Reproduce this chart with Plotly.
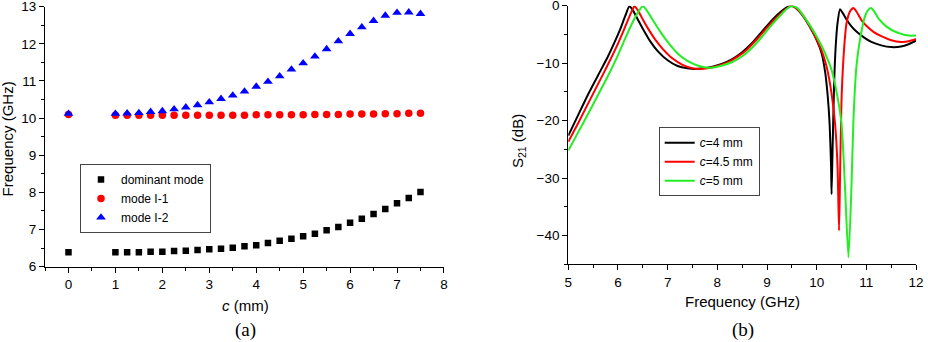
import plotly.graph_objects as go

# ---------------- Panel (a) data ----------------
c_mm = [0, 1, 1.25, 1.5, 1.75, 2, 2.25, 2.5, 2.75, 3, 3.25, 3.5, 3.75, 4, 4.25,
        4.5, 4.75, 5, 5.25, 5.5, 5.75, 6, 6.25, 6.5, 6.75, 7, 7.25, 7.5]
dominant_mode = [6.39, 6.39, 6.39, 6.39, 6.40, 6.40, 6.42, 6.43, 6.45, 6.47, 6.48, 6.51,
                 6.55, 6.58, 6.64, 6.70, 6.75, 6.82, 6.89, 6.98, 7.07, 7.18, 7.29,
                 7.42, 7.55, 7.71, 7.85, 8.01]
mode_I1 = [10.10, 10.08, 10.08, 10.08, 10.08, 10.08, 10.08, 10.08, 10.08, 10.08, 10.08,
           10.08, 10.08, 10.09, 10.09, 10.09, 10.09, 10.09, 10.10, 10.10, 10.10, 10.11,
           10.11, 10.11, 10.12, 10.12, 10.13, 10.13]
mode_I2 = [10.12, 10.12, 10.13, 10.14, 10.17, 10.19, 10.24, 10.29, 10.35, 10.43, 10.52,
           10.61, 10.72, 10.85, 10.98, 11.13, 11.31, 11.48, 11.66, 11.86, 12.07, 12.27,
           12.45, 12.62, 12.76, 12.84, 12.85, 12.81]

# ---------------- Panel (b) data ----------------
freq_c4 = [5.0, 5.2, 5.4, 5.6, 5.8, 5.95, 6.05, 6.15, 6.23, 6.3, 6.4, 6.5, 6.65, 6.8, 7.0,
           7.2, 7.4, 7.55, 7.7, 7.9, 8.1, 8.3, 8.5, 8.7, 8.9, 9.1, 9.3, 9.45, 9.55, 9.7,
           9.85, 10.0, 10.1, 10.17, 10.22, 10.26, 10.29, 10.30, 10.32, 10.35, 10.38,
           10.42, 10.47, 10.52, 10.6, 10.7, 10.8, 10.95, 11.1, 11.3, 11.5, 11.7, 11.85, 12.0]
s21_c4 = [-22.6, -19.0, -15.4, -12.1, -8.8, -6.0, -4.0, -1.7, -0.1, -0.8, -2.4, -4.0, -6.2,
          -7.9, -9.5, -10.5, -10.9, -11.0, -10.9, -10.6, -10.1, -9.3, -8.1, -6.5, -4.5,
          -2.5, -0.9, -0.05, -0.2, -1.5, -3.5, -6.0, -8.3, -11.5, -15.5, -20.5, -28.0,
          -32.8, -25.0, -14.0, -7.5, -3.0, -0.6, -1.2, -2.4, -3.6, -4.5, -5.5, -6.3, -6.9,
          -7.2, -7.1, -6.7, -6.1]

freq_c45 = [5.0, 5.2, 5.4, 5.6, 5.8, 6.0, 6.1, 6.2, 6.28, 6.33, 6.4, 6.5, 6.6, 6.75, 6.9,
            7.1, 7.3, 7.5, 7.65, 7.8, 8.0, 8.2, 8.4, 8.6, 8.8, 9.0, 9.2, 9.35, 9.48, 9.6,
            9.75, 9.9, 10.0, 10.1, 10.2, 10.3, 10.37, 10.42, 10.45, 10.47, 10.5, 10.55,
            10.6, 10.67, 10.74, 10.8, 10.9, 11.0, 11.15, 11.3, 11.5, 11.7, 11.85, 12.0]
s21_c45 = [-23.7, -20.4, -17.0, -13.6, -10.2, -6.6, -4.6, -2.5, -0.9, -0.1, -0.8, -2.4,
           -3.9, -5.9, -7.5, -9.2, -10.3, -10.9, -11.0, -10.9, -10.5, -9.9, -8.9, -7.6,
           -5.8, -3.8, -2.0, -0.8, -0.05, -0.5, -2.0, -4.2, -5.9, -7.8, -10.6, -15.3,
           -20.5, -28.0, -39.1, -30.0, -16.4, -7.7, -3.1, -1.0, -0.4, -1.0, -2.5, -3.5,
           -4.6, -5.3, -6.0, -6.3, -6.2, -5.8]

freq_c5 = [5.0, 5.2, 5.4, 5.6, 5.8, 6.0, 6.15, 6.3, 6.4, 6.5, 6.58, 6.7, 6.85, 7.0, 7.2,
           7.4, 7.6, 7.8, 7.95, 8.1, 8.3, 8.5, 8.7, 8.9, 9.1, 9.3, 9.42, 9.52, 9.62, 9.8,
           9.95, 10.1, 10.2, 10.3, 10.4, 10.5, 10.57, 10.64, 10.7, 10.74, 10.8, 10.87,
           10.97, 11.03, 11.09, 11.15, 11.25, 11.4, 11.55, 11.7, 11.85, 12.0]
s21_c5 = [-25.2, -22.0, -18.8, -15.5, -12.2, -8.6, -5.6, -2.8, -1.2, -0.1, -0.8, -2.5,
          -4.5, -6.3, -8.3, -9.6, -10.4, -10.8, -10.7, -10.4, -9.8, -8.8, -7.3, -5.4,
          -3.3, -1.4, -0.4, -0.05, -0.5, -2.6, -4.6, -7.0, -8.9, -11.2, -15.0, -20.5,
          -31.6, -43.8, -31.6, -19.9, -10.6, -6.0, -1.9, -0.8, -0.4, -0.9, -2.3, -3.6,
          -4.4, -4.9, -5.2, -5.2]

FONT = "Liberation Sans, Arial, sans-serif"
SERIF = "Liberation Serif, Times New Roman, serif"

fig = go.Figure()

fig.add_trace(go.Scatter(x=c_mm, y=dominant_mode, mode="markers", name="dominant mode",
                         marker=dict(symbol="square", size=6.5, color="black"),
                         xaxis="x", yaxis="y", legend="legend"))
fig.add_trace(go.Scatter(x=c_mm, y=mode_I1, mode="markers", name="mode I-1",
                         marker=dict(symbol="circle", size=7.5, color="#ff0000"),
                         xaxis="x", yaxis="y", legend="legend"))
fig.add_trace(go.Scatter(x=c_mm, y=mode_I2, mode="markers", name="mode I-2",
                         marker=dict(symbol="triangle-up", size=8.5, color="#0000ff"),
                         xaxis="x", yaxis="y", legend="legend"))

line_specs = [
    (freq_c4, s21_c4, "<i>c</i>=4 mm", "black"),
    (freq_c45, s21_c45, "<i>c</i>=4.5 mm", "#ff0000"),
    (freq_c5, s21_c5, "<i>c</i>=5 mm", "#22ee22"),
]
for fx, fy, nm, col in line_specs:
    fig.add_trace(go.Scatter(x=fx, y=fy, mode="lines", name=nm,
                             line=dict(color=col, width=2, shape="spline", smoothing=0.6),
                             xaxis="x2", yaxis="y2", legend="legend2"))

tickfont = dict(family=FONT, size=13.5, color="black")
common = dict(showline=True, linecolor="black", linewidth=1.2, ticks="outside",
              ticklen=5, tickwidth=1, tickcolor="black", showgrid=False, zeroline=False,
              tickfont=tickfont, automargin=False, ticklabeloverflow="allow")

fig.update_layout(
    width=928, height=342,
    margin=dict(l=0, r=0, t=0, b=0),
    paper_bgcolor="white", plot_bgcolor="white",
    showlegend=True,
    xaxis=dict(domain=[0.0485, 0.4784], range=[-0.5, 8], anchor="y", dtick=1, tick0=0,
               minor=dict(ticks="outside", ticklen=3, dtick=0.5, tick0=0, tickcolor="black"),
               **common),
    yaxis=dict(domain=[0.2202, 0.9804], range=[6, 13], anchor="x", dtick=1, tick0=6,
               minor=dict(ticks="outside", ticklen=3, dtick=0.5, tick0=6, tickcolor="black"),
               **common),
    xaxis2=dict(domain=[0.6124, 0.9871], range=[5, 12], anchor="y2", dtick=1, tick0=5,
                minor=dict(ticks="outside", ticklen=3, dtick=0.5, tick0=5, tickcolor="black"),
                **common),
    yaxis2=dict(domain=[0.2272, 0.9833], range=[-45, 0], anchor="x2", dtick=10, tick0=0,
                minor=dict(ticks="outside", ticklen=3, dtick=5, tick0=0, tickcolor="black"),
                **common),
    legend=dict(x=0.0862, y=0.5205, xanchor="left", yanchor="top",
                bordercolor="#444444", borderwidth=1, bgcolor="white",
                font=dict(family=FONT, size=12, color="black"),
                itemwidth=30, tracegroupgap=0),
    legend2=dict(x=0.7098, y=0.6278, xanchor="left", yanchor="top",
                 bordercolor="#444444", borderwidth=1, bgcolor="white",
                 font=dict(family=FONT, size=12, color="black"),
                 itemwidth=30, tracegroupgap=0),
    annotations=[
        dict(text="<i>c</i> (mm)", x=0.2647, y=0.108, xref="paper", yref="paper",
             showarrow=False, xanchor="center", yanchor="middle",
             font=dict(family=FONT, size=15, color="black")),
        dict(text="Frequency (GHz)", x=0.0085, y=0.595, xref="paper", yref="paper",
             showarrow=False, xanchor="center", yanchor="middle", textangle=-90,
             font=dict(family=FONT, size=15, color="black")),
        dict(text="Frequency (GHz)", x=0.8003, y=0.1178, xref="paper", yref="paper",
             showarrow=False, xanchor="center", yanchor="middle",
             font=dict(family=FONT, size=15, color="black")),
        dict(text="S<sub>21</sub> (dB)", x=0.5582, y=0.5877, xref="paper", yref="paper",
             showarrow=False, xanchor="center", yanchor="middle", textangle=-90,
             font=dict(family=FONT, size=15, color="black")),
        dict(text="(a)", x=0.265, y=0.035, xref="paper", yref="paper",
             showarrow=False, xanchor="center", yanchor="middle",
             font=dict(family=SERIF, size=19, color="black")),
        dict(text="(b)", x=0.8003, y=0.035, xref="paper", yref="paper",
             showarrow=False, xanchor="center", yanchor="middle",
             font=dict(family=SERIF, size=19, color="black")),
    ],
)

fig.write_html("out.html")
